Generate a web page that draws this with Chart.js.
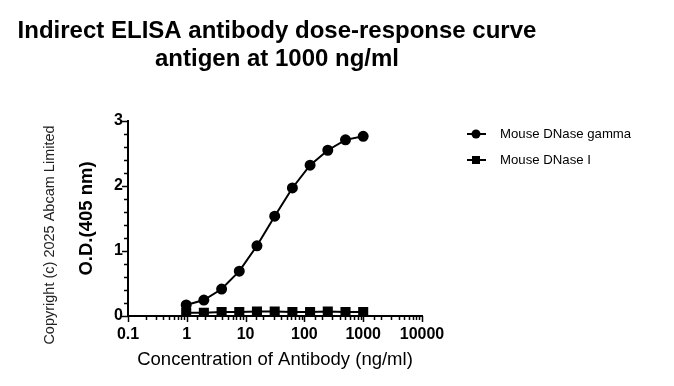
<!DOCTYPE html>
<html>
<head>
<meta charset="utf-8">
<script src="https://cdn.jsdelivr.net/npm/chart.js@4.4.1/dist/chart.umd.min.js"></script>
<style>
  html, body { margin: 0; padding: 0; background: #fff; }
  #wrap { width: 674px; height: 386px; }
</style>
</head>
<body>
<div id="wrap"><canvas id="elisa" width="674" height="386"></canvas></div>
<script>
// antibody concentration (ng/ml), 2-fold dilutions
const conc = [0.977, 1.95, 3.91, 7.81, 15.6, 31.25, 62.5, 125, 250, 500, 1000];
// O.D. 405 nm
const gammaOD = [0.17, 0.245, 0.415, 0.69, 1.08, 1.535, 1.97, 2.32, 2.55, 2.71, 2.765];
const dnase1OD = [0.05, 0.05, 0.06, 0.06, 0.07, 0.07, 0.06, 0.06, 0.07, 0.06, 0.06];
const seriesNames = ['Mouse DNase gamma', 'Mouse DNase I'];
const xTickLabels = ['0.1', '1', '10', '100', '1000', '10000'];
const yTickLabels = ['0', '1', '2', '3'];

const FONT = 'Arial, "Liberation Sans", sans-serif';

function pts(ys) {
  return conc.map((c, i) => ({ x: c, y: ys[i] }));
}

// title, copyright, legend, axis tick marks
const extras = {
  id: 'extras',
  afterDraw(chart) {
    const ctx = chart.ctx;
    const xs = chart.scales.x, ys = chart.scales.y;
    const area = chart.chartArea;
    ctx.save();
    ctx.fillStyle = '#000';
    ctx.textAlign = 'center';
    ctx.textBaseline = 'middle';
    ctx.font = 'bold 24px ' + FONT;
    ctx.fillText('Indirect ELISA antibody dose-response curve', 277, 31);
    ctx.fillText('antigen at 1000 ng/ml', 277, 59);

    // copyright, vertical
    ctx.save();
    ctx.translate(50, 235);
    ctx.rotate(-Math.PI / 2);
    ctx.font = '14.5px ' + FONT;
    ctx.fillStyle = '#222';
    ctx.fillText('Copyright (c) 2025 Abcam Limited', 0, 0);
    ctx.restore();

    // tick marks
    ctx.strokeStyle = '#000';
    ctx.lineWidth = 1.5;
    ctx.beginPath();
    xs.ticks.forEach(t => {
      const major = Math.abs(Math.log10(t.value) - Math.round(Math.log10(t.value))) < 1e-6;
      const px = Math.round(xs.getPixelForValue(t.value)) + 0.5;
      ctx.moveTo(px, area.bottom);
      ctx.lineTo(px, area.bottom + (major ? 6 : 4));
    });
    for (let v = 0; v <= 3.0001; v += 0.2) {
      const major = Math.abs(v - Math.round(v)) < 1e-6;
      const py = Math.round(ys.getPixelForValue(v)) + 0.5;
      ctx.moveTo(area.left, py);
      ctx.lineTo(area.left - (major ? 6 : 4), py);
    }
    ctx.stroke();

    // legend
    ctx.textAlign = 'left';
    ctx.font = '13.2px ' + FONT;
    chart.data.datasets.forEach((ds, i) => {
      const y = 134 + i * 26;
      ctx.beginPath();
      ctx.lineWidth = 2;
      ctx.moveTo(467, y);
      ctx.lineTo(486, y);
      ctx.stroke();
      ctx.fillStyle = '#000';
      if (ds.pointStyle === 'rect') {
        ctx.fillRect(472, y - 4, 8, 8);
      } else {
        ctx.beginPath();
        ctx.arc(476, y, 4.5, 0, Math.PI * 2);
        ctx.fill();
      }
      ctx.fillText(seriesNames[i], 500, y);
    });
    ctx.restore();
  }
};

new Chart(document.getElementById('elisa'), {
  type: 'scatter',
  data: {
    datasets: [{
      label: seriesNames[0],
      data: pts(gammaOD),
      showLine: true,
      borderColor: '#000',
      backgroundColor: '#000',
      borderWidth: 2,
      pointStyle: 'circle',
      pointRadius: 4.5,
      pointHoverRadius: 4.5
    }, {
      label: seriesNames[1],
      data: pts(dnase1OD),
      showLine: true,
      borderColor: '#000',
      backgroundColor: '#000',
      borderWidth: 2,
      pointStyle: 'rect',
      pointRadius: 5.7,
      pointHoverRadius: 5.7
    }]
  },
  options: {
    responsive: false,
    animation: false,
    events: [],
    layout: { padding: { left: 68, right: 252, top: 121, bottom: 0 } },
    plugins: {
      legend: { display: false },
      title: { display: false },
      tooltip: { enabled: false }
    },
    scales: {
      x: {
        type: 'logarithmic',
        min: 0.1,
        max: 10000,
        afterFit: s => { s.height = 70; },
        grid: { display: false, drawTicks: false },
        border: { display: true, color: '#000', width: 2 },
        ticks: {
          autoSkip: false,
          maxRotation: 0,
          padding: 9,
          color: '#000',
          font: { family: FONT, size: 16, weight: 'bold' },
          callback: v => {
            const s = String(v);
            return xTickLabels.includes(s) ? s : '';
          }
        },
        title: {
          display: true,
          text: 'Concentration of Antibody (ng/ml)',
          color: '#000',
          font: { family: FONT, size: 18.5 },
          padding: { top: 0, bottom: 15 }
        }
      },
      y: {
        min: 0,
        max: 3,
        afterFit: s => { s.width = 60; },
        grid: { display: false, drawTicks: false },
        border: { display: true, color: '#000', width: 2 },
        ticks: {
          stepSize: 1,
          padding: 5,
          color: '#000',
          font: { family: FONT, size: 16, weight: 'bold' },
          callback: v => yTickLabels.includes(String(v)) ? String(v) : ''
        },
        title: {
          display: true,
          text: 'O.D.(405 nm)',
          color: '#000',
          font: { family: FONT, size: 18.5, weight: 'bold' },
          padding: { top: 8, bottom: 0 }
        }
      }
    }
  },
  plugins: [extras]
});
</script>
</body>
</html>
